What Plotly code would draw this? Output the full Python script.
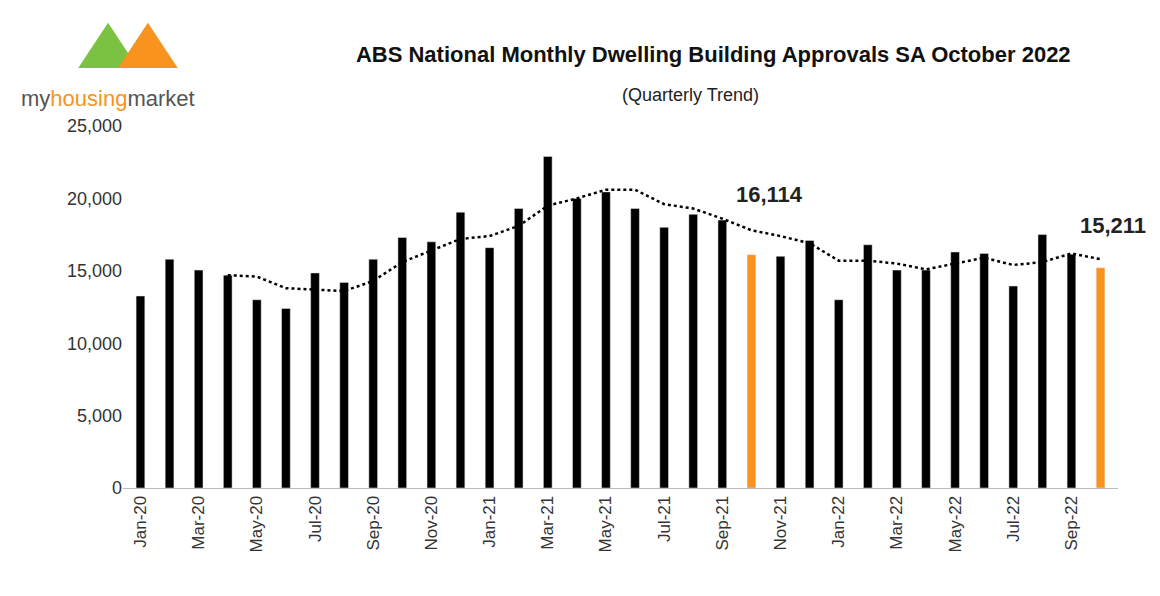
import plotly.graph_objects as go

months = ["Jan-20","Feb-20","Mar-20","Apr-20","May-20","Jun-20","Jul-20","Aug-20","Sep-20","Oct-20","Nov-20","Dec-20",
          "Jan-21","Feb-21","Mar-21","Apr-21","May-21","Jun-21","Jul-21","Aug-21","Sep-21","Oct-21","Nov-21","Dec-21",
          "Jan-22","Feb-22","Mar-22","Apr-22","May-22","Jun-22","Jul-22","Aug-22","Sep-22","Oct-22"]
approvals = [13260,15800,15050,14700,13000,12400,14850,14200,15800,17300,17000,19050,
             16600,19300,22900,20000,20450,19300,18000,18900,18500,16114,16000,17100,
             13000,16800,15050,15050,16300,16200,13950,17500,16150,15211]
trend = [None,None,None,14700,14600,13800,13700,13600,14300,15600,16400,17200,
         17400,18100,19500,20000,20600,20600,19600,19300,18600,17800,17400,16900,
         15700,15700,15500,15100,15500,15900,15400,15600,16200,15800]
highlight = {"Oct-21", "Oct-22"}
colors = ["#F7931E" if m in highlight else "#000000" for m in months]
tickvals = months[::2]

fig = go.Figure()
fig.add_bar(x=months, y=approvals, marker_color=colors, width=0.3, showlegend=False)
fig.add_scatter(x=months, y=trend, mode="lines", line=dict(color="black", width=2.5, dash="dot"),
                showlegend=False, connectgaps=False)
fig.add_annotation(x="Oct-21", y=16114, text="<b>16,114</b>", showarrow=False, xanchor="left",
                   yshift=60, xshift=-17, font=dict(size=22, color="#222"))
fig.add_annotation(x="Oct-22", y=15211, text="<b>15,211</b>", showarrow=False,
                   yshift=42, xshift=12, font=dict(size=22, color="#222"))

fig.update_layout(
    width=1160, height=596, paper_bgcolor="white", plot_bgcolor="white",
    margin=dict(l=115, r=50, t=118, b=116, autoexpand=False),
    font=dict(family="Liberation Sans, Arial", color="#333"),
    title=dict(text="<b>ABS National Monthly Dwelling Building Approvals SA October 2022</b>",
               x=0.608, xanchor="center", y=0.935, font=dict(size=22, color="#111")),
    bargap=0.5,
)
fig.add_annotation(xref="paper", yref="paper", x=0.57, y=1.12, text="(Quarterly Trend)",
                   showarrow=False, font=dict(size=18, color="#222"))
fig.update_xaxes(tickmode="array", tickvals=tickvals, ticktext=tickvals, tickangle=-90,
                 tickfont=dict(size=17, color="#333"), showline=True, linecolor="#bbb",
                 range=[-0.6, 33.6], ticks="", automargin=False)
fig.update_yaxes(range=[0, 25000], dtick=5000, tickformat=",", showgrid=False,
                 tickfont=dict(size=18, color="#333"), zeroline=False, automargin=False)

# logo
fig.add_shape(type="path", xref="paper", yref="paper",
              path="M -0.045 1.16 L -0.015 1.285 L 0.015 1.16 Z", fillcolor="#7CC242", line_width=0)
fig.add_shape(type="path", xref="paper", yref="paper",
              path="M -0.005 1.16 L 0.025 1.285 L 0.055 1.16 Z", fillcolor="#F7931E", line_width=0)
fig.add_annotation(xref="paper", yref="paper", x=-0.105, y=1.115, xanchor="left", showarrow=False,
                   text="<span style='color:#555'>my</span><span style='color:#F7931E'>housing</span><span style='color:#555'>market</span>",
                   font=dict(size=22, family="Liberation Sans"))
fig.write_html("out.html")
